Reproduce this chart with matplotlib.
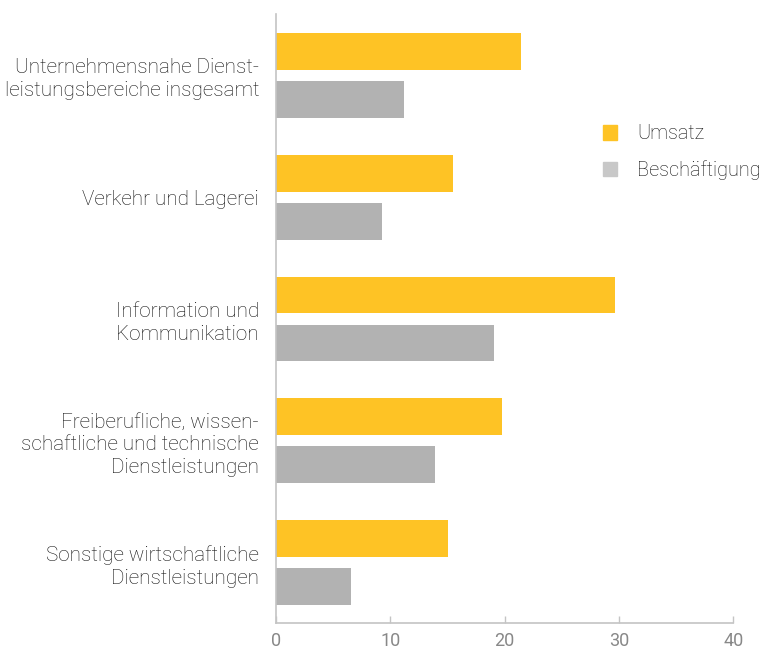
import matplotlib
matplotlib.use("Agg")
import matplotlib.pyplot as plt
from matplotlib.patches import Patch
import numpy as np

categories = [
    "Unternehmensnahe Dienst-\nleistungsbereiche insgesamt",
    "Verkehr und Lagerei",
    "Information und\nKommunikation",
    "Freiberufliche, wissen-\nschaftliche und technische\nDienstleistungen",
    "Sonstige wirtschaftliche\nDienstleistungen",
]
umsatz = [21.4, 15.5, 29.7, 19.8, 15.1]
beschaeftigung = [11.2, 9.3, 19.1, 13.9, 6.6]
series_names = ["Umsatz", "Beschäftigung"]
xticks = [0, 10, 20, 30, 40]

plt.rcParams["font.family"] = ["Roboto", "DejaVu Sans"]

yellow = "#FEC325"
gray = "#B2B2B2"
legend_gray = "#C8C8C8"
axis_col = "#C4C4C4"

fig = plt.figure(figsize=(7.6, 6.5), dpi=100)
ax = fig.add_axes([0.3628, 0.0408, 0.6021, 0.9369])

y = np.arange(len(categories))
h = 0.303
off = 0.197
ax.barh(y - off, umsatz, height=h, color=yellow, zorder=2)
ax.barh(y + off, beschaeftigung, height=h, color=gray, zorder=2)

ax.set_xlim(0, 40)
ax.set_ylim(len(categories) - 0.5, -0.5)
ax.set_xticks(xticks)
ax.set_xticklabels([str(t) for t in xticks])
ax.set_yticks(y)
ax.set_yticklabels(categories, fontsize=14.9, color="#111111", fontweight="light",
                   linespacing=1.24)
ax.tick_params(axis="y", length=0, pad=12)
ax.tick_params(axis="x", direction="in", length=5, width=1, color=axis_col,
               labelsize=13, labelcolor="#888888", pad=6)

for s in ["top", "right"]:
    ax.spines[s].set_visible(False)
for s in ["left", "bottom"]:
    ax.spines[s].set_color(axis_col)
    ax.spines[s].set_linewidth(1.2)

handles = [Patch(color=yellow), Patch(color=legend_gray)]
leg = fig.legend(handles, series_names, loc="upper left",
                 bbox_to_anchor=(0.770, 0.836), frameon=False,
                 fontsize=14.3, handlelength=0.72, handleheight=0.75,
                 handletextpad=1.0, labelspacing=0.85)
for t in leg.get_texts():
    t.set_color("#111111")
    t.set_fontweight("light")

fig.savefig("out.png", dpi=100)
